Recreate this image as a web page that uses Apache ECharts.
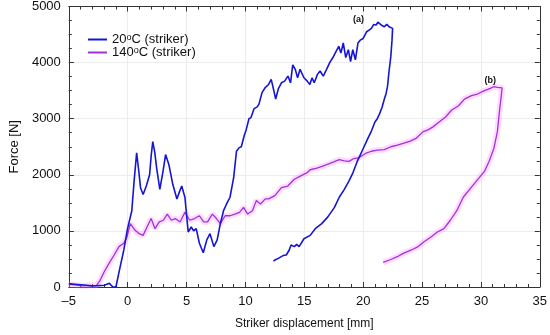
<!DOCTYPE html>
<html><head><meta charset="utf-8">
<script src="https://cdn.jsdelivr.net/npm/echarts@6/dist/echarts.min.js"></script>
<style>html,body{margin:0;padding:0;background:#fff}#c{width:550px;height:335px}</style>
</head><body><div id="c"></div>
<script>
var xTicks = [-5, 0, 5, 10, 15, 20, 25, 30, 35];
var yTicks = [0, 1000, 2000, 3000, 4000, 5000];
var seriesNames = ['20°C (striker)', '140°C (striker)'];

var blueX = [-5,-4.5,-4,-3.5,-3.06,-2.5,-1.97,-1.56,-1.28,-1.0,-0.7,-0.33,0,0.35,0.55,0.76,0.95,1.09,1.31,1.58,1.86,2.0,2.13,2.3,2.46,2.73,3.0,3.22,3.5,3.83,4.18,4.4,4.59,4.86,5.14,5.4,5.6,5.82,6.09,6.42,6.72,6.99,7.32,7.6,7.87,8.14,8.4,8.69,9.0,9.24,9.45,9.65,9.9,10.06,10.3,10.47,10.74,11.0,11.15,11.42,11.7,11.97,12.19,12.38,12.57,12.79,13.06,13.33,13.61,13.83,14.02,14.23,14.43,14.64,14.97,15.25,15.47,15.66,15.84,16.12,16.34,16.61,16.89,17.16,17.43,17.7,17.93,18.11,18.31,18.52,18.74,18.93,19.12,19.34,19.56,19.75,20.0,20.3,20.5,20.7,20.9,21.1,21.25,21.4,21.6,21.8,22.0,22.2,22.35,22.5,
  22.45,22.35,22.2,22.07,21.95,21.8,21.6,21.4,21.2,21.0,20.7,20.4,19.9,19.5,19.1,18.8,18.4,17.97,17.56,17.0,16.48,15.93,15.5,15.38,14.97,14.56,14.35,14.15,13.88,13.7,13.47,13.2,12.79,12.5,12.38];
var blueY = [60,50,40,30,20,25,30,65,5,0,300,660,1050,1360,1900,2390,2050,1770,1650,1800,2000,2350,2590,2400,2120,1740,2060,2360,2180,1830,1570,1700,1800,1600,980,1070,1000,1040,780,610,840,950,720,840,1130,1360,1480,1600,1950,2420,2480,2500,2700,2800,3000,3020,3180,3210,3260,3470,3560,3610,3700,3530,3350,3530,3640,3670,3760,3640,3960,3880,3730,3880,3730,3670,3610,3730,3640,3790,3850,3760,3880,4000,4090,4200,4290,4170,4350,4090,4230,4020,4230,4050,4350,4400,4430,4550,4580,4610,4680,4670,4720,4700,4660,4640,4680,4640,4650,4610,
  4400,4110,3850,3580,3450,3350,3200,3090,3000,2940,2780,2650,2420,2240,2020,1890,1740,1600,1420,1250,1130,1040,920,950,860,720,760,720,750,650,570,560,510,480,460];

var magX = [-5,-4.5,-3.9,-3.3,-2.65,-2.38,-1.97,-1.56,-1.15,-0.74,-0.33,-0.06,0.22,0.63,0.98,1.31,1.64,1.99,2.32,2.68,3.03,3.36,3.71,4.04,4.45,4.86,5.27,5.68,6.09,6.45,6.78,7.19,7.54,7.87,8.28,8.69,9.1,9.5,9.84,10.19,10.6,10.92,11.28,11.69,11.97,12.5,13.06,13.6,14.15,14.7,15.25,15.5,16.07,16.5,16.9,17.5,17.97,18.4,18.8,19.2,19.6,20.2,20.7,21.2,21.8,22.35,22.9,23.4,24.0,24.5,25.1,25.5,25.9,26.45,27.0,27.5,28.1,28.6,29.2,29.7,30.3,30.8,31.1,31.4,31.8,
  31.7,31.6,31.4,31.1,30.7,30.3,29.86,29.2,28.5,27.95,27.4,26.86,26.3,25.76,25.2,24.67,24.1,23.4,22.9,22.35,21.7];
var magY = [45,40,20,25,30,105,280,430,570,720,780,890,1130,1010,950,920,1070,1220,1040,1160,1190,1300,1190,1220,1160,1330,1190,1220,1270,1160,1160,1300,1220,1130,1270,1270,1300,1330,1420,1300,1360,1540,1480,1570,1570,1630,1770,1800,1920,1980,2040,2090,2120,2150,2180,2230,2270,2250,2240,2290,2300,2380,2420,2440,2450,2500,2530,2560,2600,2650,2770,2800,2850,2940,3030,3150,3230,3350,3410,3440,3500,3540,3570,3560,3550,
  3350,3180,2770,2470,2240,2060,1950,1780,1600,1360,1190,1040,980,890,810,720,660,600,540,490,440];

var annoText = ['(a)', '(b)'];
var annoX = [19.6, 30.8];
var annoY = [4770, 3680];

function pairs(xs, ys){ var o=[]; for(var i=0;i<xs.length;i++) o.push([xs[i], ys[i]]); return o; }

var FONT = '"Liberation Sans", Arial, sans-serif';
var chart = echarts.init(document.getElementById('c'), null, {renderer:'canvas'});
function ax(split){
  return {
    axisLine:{show:true, onZero:false, lineStyle:{color:'#333', width:1}},
    axisTick:{show:true, inside:true, length:5, lineStyle:{color:'#333'}},
    minorTick:{show:true, splitNumber:split, length:3, lineStyle:{color:'#333'}}
  };
}
chart.setOption({
  animation:false,
  backgroundColor:'#fff',
  grid:{left:53, width:488, top:6, height:285, containLabel:false},
  legend:{
    data:[{name:seriesNames[0], icon:'rect'},{name:seriesNames[1], icon:'rect'}],
    orient:'vertical', left:88, top:33, padding:0, itemWidth:19, itemHeight:2, itemGap:0,
    textStyle:{fontFamily:FONT, fontSize:13, color:'#111', lineHeight:13,
      rich:{n:{fontFamily:FONT, fontSize:13, color:'#111'}, s:{fontFamily:FONT, fontSize:9, color:'#111', verticalAlign:'top', lineHeight:13}}},
    formatter:function(n){ var p=n.split('°'); return '{n|'+p[0]+'}{s|o}{n|'+p[1]+'}'; }
  },
  xAxis:[
    Object.assign({type:'value', min:xTicks[0], max:xTicks[xTicks.length-1], interval:5, position:'bottom',
      name:'Striker displacement [mm]', nameLocation:'middle', nameGap:31,
      nameTextStyle:{fontFamily:FONT, fontSize:12, color:'#111'},
      axisLabel:{fontFamily:FONT, fontSize:13, color:'#111', margin:8, formatter:function(v){return v<0?'\u2013'+Math.abs(v):String(v);}},
      splitLine:{show:true, lineStyle:{color:'#ececec', width:1}}}, ax(5)),
    Object.assign({type:'value', min:xTicks[0], max:xTicks[xTicks.length-1], interval:5, position:'top',
      axisLabel:{show:false}, splitLine:{show:false}}, ax(5))
  ],
  yAxis:[
    Object.assign({type:'value', min:yTicks[0], max:yTicks[yTicks.length-1], interval:1000, position:'left',
      name:'Force [N]', nameLocation:'middle', nameGap:41, nameRotate:90,
      nameTextStyle:{fontFamily:FONT, fontSize:13, color:'#111'},
      axisLabel:{fontFamily:FONT, fontSize:13, color:'#111', margin:8, formatter:function(v){return String(v);}},
      splitLine:{show:true, lineStyle:{color:'#ececec', width:1}}}, ax(4)),
    Object.assign({type:'value', min:yTicks[0], max:yTicks[yTicks.length-1], interval:1000, position:'right',
      axisLabel:{show:false}, splitLine:{show:false}}, ax(4))
  ],
  series:[
    {name:'halo', type:'line', data:pairs(magX, magY), showSymbol:false, silent:true, z:1,
      lineStyle:{color:'rgba(255,140,255,0.3)', width:6}, itemStyle:{color:'rgba(255,140,255,0.3)'}},
    {name:seriesNames[1], type:'line', data:pairs(magX, magY), showSymbol:false, z:2,
      lineStyle:{color:'#a033d8', width:1.3}, itemStyle:{color:'#a033d8'},
      markPoint:{symbol:'circle', symbolSize:0, silent:true,
        label:{show:true, position:'inside', fontFamily:FONT, fontSize:9, fontWeight:'bold', color:'#111', formatter:function(p){return p.name;}},
        data:[{name:annoText[1], coord:[annoX[1], annoY[1]]}]}},
    {name:seriesNames[0], type:'line', data:pairs(blueX, blueY), showSymbol:false, z:3,
      lineStyle:{color:'#1515d6', width:1.6}, itemStyle:{color:'#1515d6'},
      markPoint:{symbol:'circle', symbolSize:0, silent:true,
        label:{show:true, position:'inside', fontFamily:FONT, fontSize:9, fontWeight:'bold', color:'#111', formatter:function(p){return p.name;}},
        data:[{name:annoText[0], coord:[annoX[0], annoY[0]]}]}}
  ]
});
</script></body></html>
